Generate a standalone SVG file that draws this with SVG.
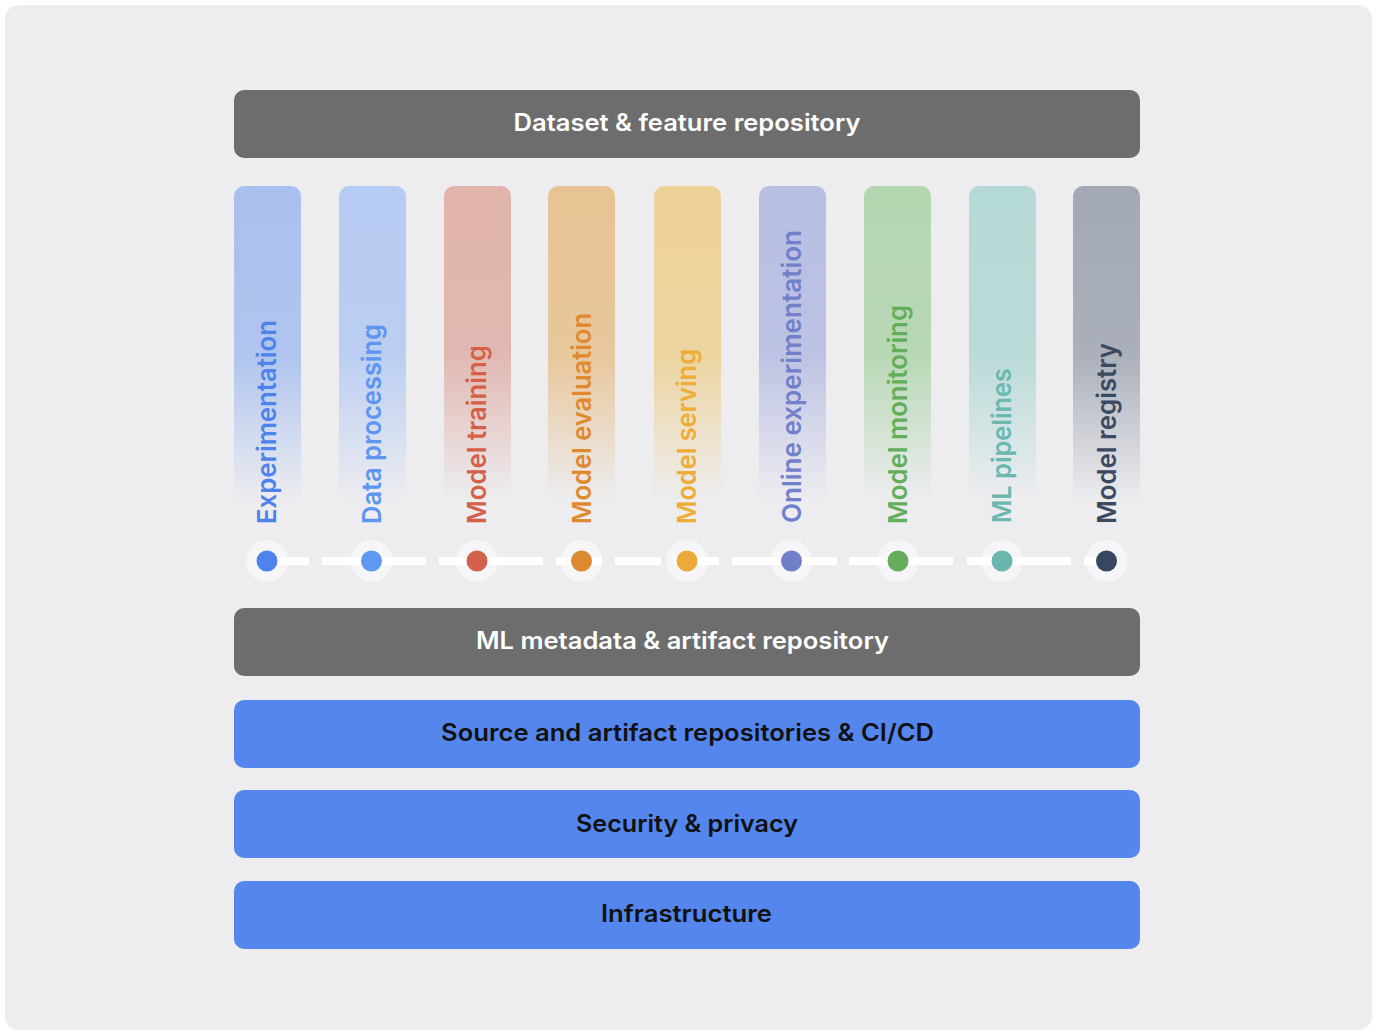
<svg xmlns="http://www.w3.org/2000/svg" width="1380" height="1034" viewBox="0 0 1380 1034">
<defs>
<style>
.bar-dark{fill:#6D6D6D}
.bar-blue{fill:#5486EE}
.t{font-family:Inter,"Open Sans","Liberation Sans",sans-serif;font-weight:600;font-size:24px;text-anchor:middle}
.tw{fill:#FFFFFF}
.tb{fill:#111111}
.v{font-family:Inter,"Open Sans","Liberation Sans",sans-serif;font-weight:600;font-size:26px}
.halo{fill:#F6F6F8}
.conn{stroke:#FFFFFF;stroke-width:8;fill:none}
</style>
<linearGradient id="g1" x1="0" y1="0" x2="0" y2="1"><stop offset="0" stop-color="#A9C0EE"/><stop offset="0.5" stop-color="#A9C0EE" stop-opacity="0.9"/><stop offset="0.93" stop-color="#A9C0EE" stop-opacity="0"/></linearGradient>
<linearGradient id="g2" x1="0" y1="0" x2="0" y2="1"><stop offset="0" stop-color="#B6CBF2"/><stop offset="0.5" stop-color="#B6CBF2" stop-opacity="0.9"/><stop offset="0.93" stop-color="#B6CBF2" stop-opacity="0"/></linearGradient>
<linearGradient id="g3" x1="0" y1="0" x2="0" y2="1"><stop offset="0" stop-color="#E0B3AB"/><stop offset="0.5" stop-color="#E0B3AB" stop-opacity="0.9"/><stop offset="0.93" stop-color="#E0B3AB" stop-opacity="0"/></linearGradient>
<linearGradient id="g4" x1="0" y1="0" x2="0" y2="1"><stop offset="0" stop-color="#E7C393"/><stop offset="0.5" stop-color="#E7C393" stop-opacity="0.9"/><stop offset="0.93" stop-color="#E7C393" stop-opacity="0"/></linearGradient>
<linearGradient id="g5" x1="0" y1="0" x2="0" y2="1"><stop offset="0" stop-color="#EDD298"/><stop offset="0.5" stop-color="#EDD298" stop-opacity="0.9"/><stop offset="0.93" stop-color="#EDD298" stop-opacity="0"/></linearGradient>
<linearGradient id="g6" x1="0" y1="0" x2="0" y2="1"><stop offset="0" stop-color="#B8BEE2"/><stop offset="0.5" stop-color="#B8BEE2" stop-opacity="0.9"/><stop offset="0.93" stop-color="#B8BEE2" stop-opacity="0"/></linearGradient>
<linearGradient id="g7" x1="0" y1="0" x2="0" y2="1"><stop offset="0" stop-color="#B3D6AF"/><stop offset="0.5" stop-color="#B3D6AF" stop-opacity="0.9"/><stop offset="0.93" stop-color="#B3D6AF" stop-opacity="0"/></linearGradient>
<linearGradient id="g8" x1="0" y1="0" x2="0" y2="1"><stop offset="0" stop-color="#B5D9D6"/><stop offset="0.5" stop-color="#B5D9D6" stop-opacity="0.9"/><stop offset="0.93" stop-color="#B5D9D6" stop-opacity="0"/></linearGradient>
<linearGradient id="g9" x1="0" y1="0" x2="0" y2="1"><stop offset="0" stop-color="#A3A9B4"/><stop offset="0.5" stop-color="#A3A9B4" stop-opacity="0.9"/><stop offset="0.93" stop-color="#A3A9B4" stop-opacity="0"/></linearGradient>
</defs>
<rect x="0" y="0" width="1380" height="1034" fill="#FFFFFF"/>
<rect x="5" y="5" width="1367" height="1025" rx="14" fill="#EDEDF0"/>

<g id="dataset-repo"><rect class="bar-dark" x="234" y="90" width="906" height="68" rx="10"/><text class="t tw" x="687" y="131" textLength="347" lengthAdjust="spacingAndGlyphs">Dataset &amp; feature repository</text></g>

<g id="col-experimentation"><rect x="234" y="186" width="67" height="340" rx="10" fill="url(#g1)"/><text class="v" fill="#4F83EC" transform="translate(276,524) rotate(-90)" textLength="204" lengthAdjust="spacingAndGlyphs">Experimentation</text></g>
<g id="col-data-processing"><rect x="339" y="186" width="67" height="340" rx="10" fill="url(#g2)"/><text class="v" fill="#5D95F0" transform="translate(381,524) rotate(-90)" textLength="200" lengthAdjust="spacingAndGlyphs">Data processing</text></g>
<g id="col-model-training"><rect x="444" y="186" width="67" height="340" rx="10" fill="url(#g3)"/><text class="v" fill="#D4604A" transform="translate(486,524) rotate(-90)" textLength="179" lengthAdjust="spacingAndGlyphs">Model training</text></g>
<g id="col-model-evaluation"><rect x="548" y="186" width="67" height="340" rx="10" fill="url(#g4)"/><text class="v" fill="#E08A30" transform="translate(590.5,524) rotate(-90)" textLength="211" lengthAdjust="spacingAndGlyphs">Model evaluation</text></g>
<g id="col-model-serving"><rect x="654" y="186" width="67" height="340" rx="10" fill="url(#g5)"/><text class="v" fill="#EFAC36" transform="translate(696,524) rotate(-90)" textLength="175" lengthAdjust="spacingAndGlyphs">Model serving</text></g>
<g id="col-online-experimentation"><rect x="759" y="186" width="67" height="340" rx="10" fill="url(#g6)"/><text class="v" fill="#7180CA" transform="translate(801,523) rotate(-90)" textLength="293" lengthAdjust="spacingAndGlyphs">Online experimentation</text></g>
<g id="col-model-monitoring"><rect x="864" y="186" width="67" height="340" rx="10" fill="url(#g7)"/><text class="v" fill="#62AE5A" transform="translate(906.5,524) rotate(-90)" textLength="219" lengthAdjust="spacingAndGlyphs">Model monitoring</text></g>
<g id="col-ml-pipelines"><rect x="969" y="186" width="67" height="340" rx="10" fill="url(#g8)"/><text class="v" fill="#6AB8B0" transform="translate(1011,523) rotate(-90)" textLength="155" lengthAdjust="spacingAndGlyphs">ML pipelines</text></g>
<g id="col-model-registry"><rect x="1073" y="186" width="67" height="340" rx="10" fill="url(#g9)"/><text class="v" fill="#3A4A62" transform="translate(1115.5,524) rotate(-90)" textLength="181" lengthAdjust="spacingAndGlyphs">Model registry</text></g>

<g id="halos">
<circle class="halo" cx="267" cy="561" r="21"/><circle class="halo" cx="371.5" cy="561" r="21"/><circle class="halo" cx="477" cy="561" r="21"/><circle class="halo" cx="581.5" cy="561" r="21"/><circle class="halo" cx="687" cy="561" r="21"/><circle class="halo" cx="791.5" cy="561" r="21"/><circle class="halo" cx="898" cy="561" r="21"/><circle class="halo" cx="1002" cy="561" r="21"/><circle class="halo" cx="1106.5" cy="561" r="21"/>
</g>
<g id="connectors">
<line class="conn" x1="267" y1="561" x2="309" y2="561"/>
<line class="conn" x1="322" y1="561" x2="426" y2="561"/>
<line class="conn" x1="439" y1="561" x2="543" y2="561"/>
<line class="conn" x1="556" y1="561" x2="602" y2="561"/>
<line class="conn" x1="615" y1="561" x2="661" y2="561"/>
<line class="conn" x1="674" y1="561" x2="719" y2="561"/>
<line class="conn" x1="732" y1="561" x2="837" y2="561"/>
<line class="conn" x1="849" y1="561" x2="953" y2="561"/>
<line class="conn" x1="967" y1="561" x2="1071" y2="561"/>
<line class="conn" x1="1084" y1="561" x2="1106" y2="561"/>
</g>
<g id="dots">
<circle cx="267" cy="561" r="10.5" fill="#4F82EC"/><circle cx="371.5" cy="561" r="10.5" fill="#5E98F0"/><circle cx="477" cy="561" r="10.5" fill="#D2604A"/><circle cx="581.5" cy="561" r="10.5" fill="#DC8A30"/><circle cx="687" cy="561" r="10.5" fill="#EDAA3A"/><circle cx="791.5" cy="561" r="10.5" fill="#6F7FC8"/><circle cx="898" cy="561" r="10.5" fill="#65AD5A"/><circle cx="1002" cy="561" r="10.5" fill="#6AB5AE"/><circle cx="1106.5" cy="561" r="10.5" fill="#37475F"/>
</g>

<g id="ml-metadata-repo"><rect class="bar-dark" x="234" y="608" width="906" height="68" rx="10"/><text class="t tw" x="682.5" y="649" textLength="413" lengthAdjust="spacingAndGlyphs">ML metadata &amp; artifact repository</text></g>
<g id="source-cicd"><rect class="bar-blue" x="234" y="700" width="906" height="68" rx="10"/><text class="t tb" x="687.5" y="741" textLength="493" lengthAdjust="spacingAndGlyphs">Source and artifact repositories &amp; CI/CD</text></g>
<g id="security-privacy"><rect class="bar-blue" x="234" y="790" width="906" height="68" rx="10"/><text class="t tb" x="687" y="832" textLength="222" lengthAdjust="spacingAndGlyphs">Security &amp; privacy</text></g>
<g id="infrastructure"><rect class="bar-blue" x="234" y="881" width="906" height="68" rx="10"/><text class="t tb" x="686.5" y="922" textLength="171" lengthAdjust="spacingAndGlyphs">Infrastructure</text></g>
</svg>
